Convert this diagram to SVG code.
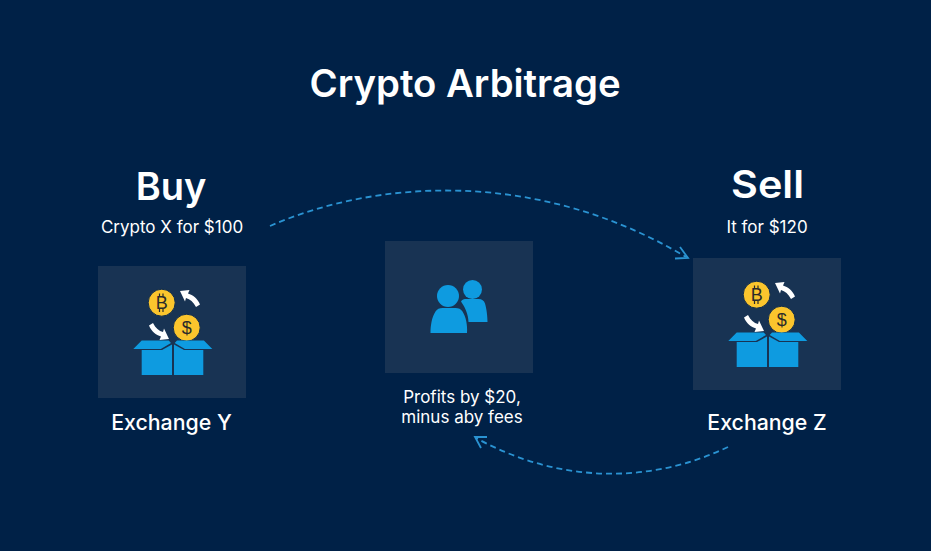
<svg xmlns="http://www.w3.org/2000/svg" width="931" height="551" viewBox="0 0 931 551">
<style>
text{font-family:Inter,"Liberation Sans",sans-serif;fill:#fff;text-anchor:middle}
.t{font-size:38.300px;font-weight:600}
.h{font-size:38px;font-weight:600}
.s{font-size:17px}
.e{font-size:21.300px;font-weight:500}
.n{font-size:17px}
.p{fill:#183353}
.c{fill:none;stroke:#2a93d2;stroke-width:1.800;stroke-dasharray:6 4}
.a{fill:none;stroke:#2a93d2;stroke-width:1.800}
.coin{fill:#fbc52d;stroke:#0f2b4c;stroke-width:1}
.g{font-family:"Liberation Sans",sans-serif;font-size:18px;font-weight:400;fill:#2a2a2a}
.b{fill:#0e9be0}
.w{fill:#fff}
</style>
<defs>
<g id="icon">
<circle class="coin" cx="161.700" cy="302.700" r="13.500"/>
<text class="g" x="161.700" y="309">B</text>
<path d="M159.500 296.500v-3M163 296.500v-3M159.500 309v3M163 309v3" stroke="#2a2a2a" stroke-width="1.200" fill="none"/>
<circle class="coin" cx="186.700" cy="327.700" r="13.500"/>
<text class="g" x="186.700" y="334">$</text>
<path class="w" d="M180 291l9.500-1-1.500 3.500c5 1.500 9.500 5 12 11l-4 2.500c-2.500-5-6-8-10-9l-1 3.500z"/>
<path class="w" d="M169 339l-9.500 1 1.500-3.500c-5-1.500-9.500-5-12-11l4-2.500c2.500 5 6 8 10 9l1-3.500z"/>
<path class="b" d="M141.700 350H162l10-5.500V375h-30.300zM203.300 350H184l-10-5.500V375h29.300z"/>
<path class="b" d="M133.300 349l8.400-8.500h27l2.300 2.500-10.200 6zM212.300 349l-8.400-8.500h-26.900l-2.300 2.500 10.200 6z"/>
</g>
</defs>
<rect width="931" height="551" fill="#002147"/>
<text class="t" x="465" y="97">Crypto Arbitrage</text>
<g id="connectors">
<path class="c" d="M270 226C380 178 540 170 686 257"/>
<path class="a" d="M675 258.500L688 258L680 247"/>
<path class="c" d="M728 447C650 484 560 484 476 438"/>
<path class="a" d="M487 437L475 437L481 448"/>
</g>
<g id="buy">
<text class="h" x="171" y="200">Buy</text>
<text class="s" x="172" y="233">Crypto X for $100</text>
</g>
<g id="sell">
<text class="h" x="767.500" y="198" textLength="73" lengthAdjust="spacingAndGlyphs">Sell</text>
<text class="s" x="767" y="233">It for $120</text>
</g>
<g id="exchange-y">
<rect class="p" x="98" y="266" width="148" height="132"/>
<use href="#icon"/>
<text class="e" x="171.500" y="430">Exchange Y</text>
</g>
<g id="trader">
<rect class="p" x="385" y="241" width="148" height="132"/>
<circle class="b" cx="472.500" cy="289.500" r="9.500"/>
<path class="b" d="M461 301.500c1-2 3-2.500 5.500-2.500h12c3.500 0 5.500 1.500 6.500 4.500 1.500 5 2.500 13 2.500 18.500h-19c-.5-8-3-14-7.500-20.500z"/>
<circle class="b" cx="448" cy="296" r="11"/>
<path class="b" d="M430.500 333c0-8 1.500-16 5-21.500 1.500-2.500 4-3.500 7-3.500h13c3 0 5.500 1 7 3.500 3.500 5.500 5 13.500 4.500 21.500z"/>
<text class="n" x="462" y="403">Profits by $20,</text>
<text class="n" x="462" y="423">minus aby fees</text>
</g>
<g id="exchange-z">
<rect class="p" x="693" y="258" width="148" height="132"/>
<use href="#icon" transform="translate(595 -8)"/>
<text class="e" x="767" y="430">Exchange Z</text>
</g>
</svg>
